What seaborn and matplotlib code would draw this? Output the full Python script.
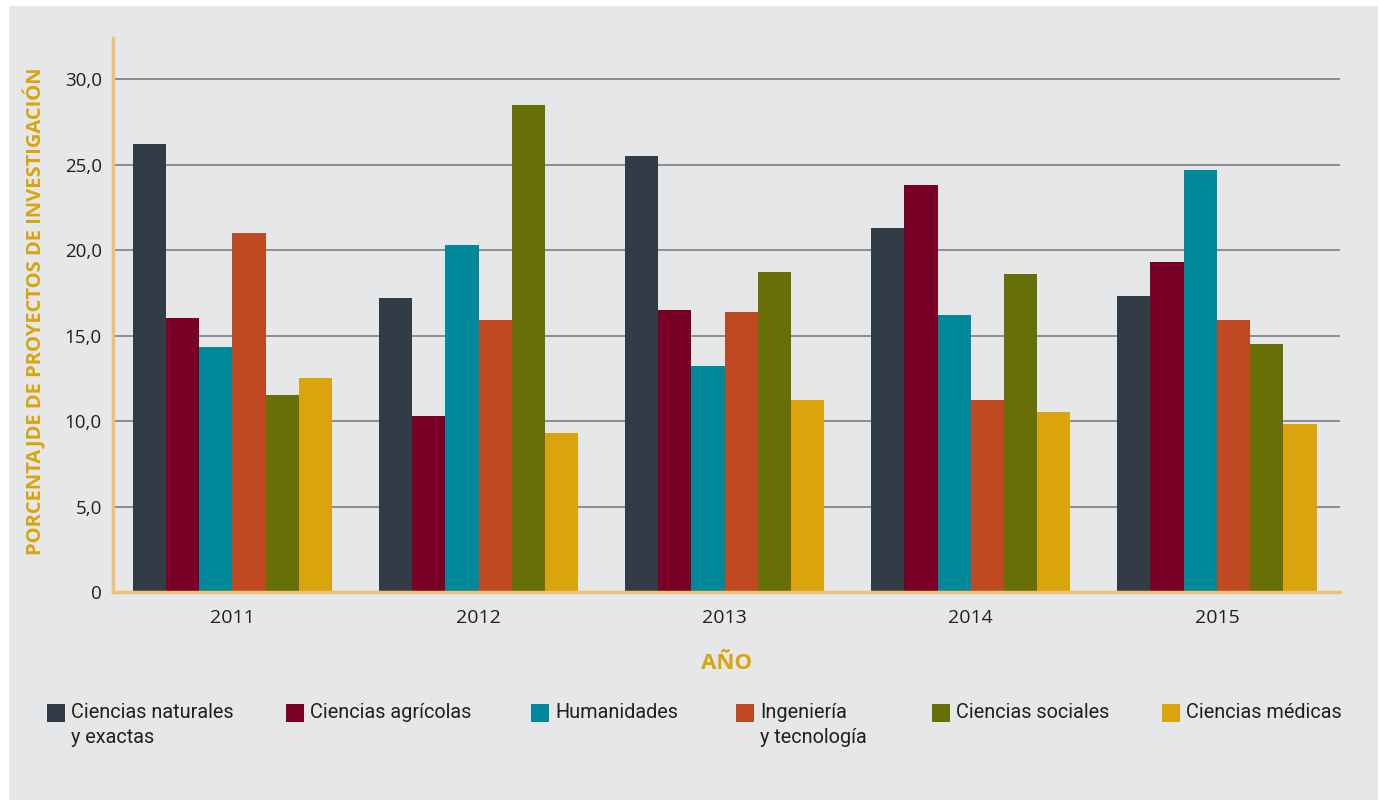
import matplotlib
matplotlib.use("Agg")
import matplotlib.pyplot as plt
import pandas as pd
import seaborn as sns
from matplotlib.patches import Rectangle

# Data
years = ["2011", "2012", "2013", "2014", "2015"]
areas = ["Ciencias naturales\ny exactas", "Ciencias agrícolas", "Humanidades",
         "Ingeniería\ny tecnología", "Ciencias sociales", "Ciencias médicas"]
naturales = [26.2, 17.2, 25.5, 21.3, 17.3]
agricolas = [16.0, 10.3, 16.5, 23.8, 19.3]
humanidades = [14.3, 20.3, 13.2, 16.2, 24.7]
ingenieria = [21.0, 15.9, 16.4, 11.2, 15.9]
sociales = [11.5, 28.5, 18.7, 18.6, 14.5]
medicas = [12.5, 9.3, 11.2, 10.5, 9.8]
y_ticks = [0, 5, 10, 15, 20, 25, 30]
y_labels = ["0", "5,0", "10,0", "15,0", "20,0", "25,0", "30,0"]

colors = ["#323c46", "#7a0026", "#00899b", "#bf4920", "#667006", "#d9a40c"]
series = [naturales, agricolas, humanidades, ingenieria, sociales, medicas]

rows = []
for area, vals in zip(areas, series):
    for yr, v in zip(years, vals):
        rows.append({"anio": yr, "valor": v, "area": area})
df = pd.DataFrame(rows)

sns.set_style("white")
plt.rcParams['font.family'] = ['Open Sans', 'DejaVu Sans']

bg = "#e6e7e9"
spine_c = "#ebc373"
gold = "#d9a40c"
txt = "#231f20"
W, H = 1380, 800

fig = plt.figure(figsize=(13.8, 8), dpi=100)
fig.patch.set_facecolor("white")
fig.patches.append(Rectangle((9 / W, 0), 1369 / W, 794 / H,
                             transform=fig.transFigure, facecolor=bg,
                             edgecolor="none", zorder=-10))

ax = fig.add_axes([113 / W, 208 / H, 1227 / W, 554 / H])
ax.patch.set_alpha(0)

sns.barplot(data=df, x="anio", y="valor", hue="area", palette=colors,
            width=0.81, saturation=1, ax=ax, legend=False, errorbar=None,
            edgecolor="none", linewidth=0, zorder=3)

ax.set_xlim(-0.485, 4.5)
ax.set_ylim(0, 32.4)
ax.set_yticks(y_ticks)
ax.set_yticklabels(y_labels, fontsize=13.5, color=txt)
ax.yaxis.grid(True, color="#8c8d90", linewidth=1.4, zorder=0)
ax.set_axisbelow(True)

for s in ["top", "right"]:
    ax.spines[s].set_visible(False)
for s in ["left", "bottom"]:
    ax.spines[s].set_color(spine_c)
    ax.spines[s].set_linewidth(2.5)
    ax.spines[s].set_zorder(5)

ax.tick_params(axis="y", length=0, pad=8)
ax.tick_params(axis="x", which="major", length=0, pad=12, labelsize=14,
               labelcolor=txt)
ax.set_xticks([0.5, 1.5, 2.5, 3.5], minor=True)
ax.tick_params(axis="x", which="minor", length=14, width=2.5, color=spine_c)

ax.set_xlabel("AÑO", fontsize=16, fontweight="bold", color=gold, labelpad=19)
ax.set_ylabel("PORCENTAJDE DE PROYECTOS DE INVESTIGACIÓN", fontsize=14.5,
              fontweight="bold", color=gold)
ax.yaxis.set_label_coords(-0.054, 0.507)

# legend drawn by hand, one row, text hanging from the top of each square
leg_x = [47, 286, 531, 736, 932, 1162]
for x0, c, lab in zip(leg_x, colors, areas):
    fig.patches.append(Rectangle((x0 / W, 1 - 722 / H), 18 / W, 18 / H,
                                 transform=fig.transFigure, facecolor=c,
                                 edgecolor="none"))
    fig.text((x0 + 24) / W, 1 - 703 / H, lab, ha="left", va="top",
             fontsize=14.3, color=txt, linespacing=1.4,
             family=["Roboto", "DejaVu Sans"])

fig.savefig("out.png", dpi=100, facecolor="white")
